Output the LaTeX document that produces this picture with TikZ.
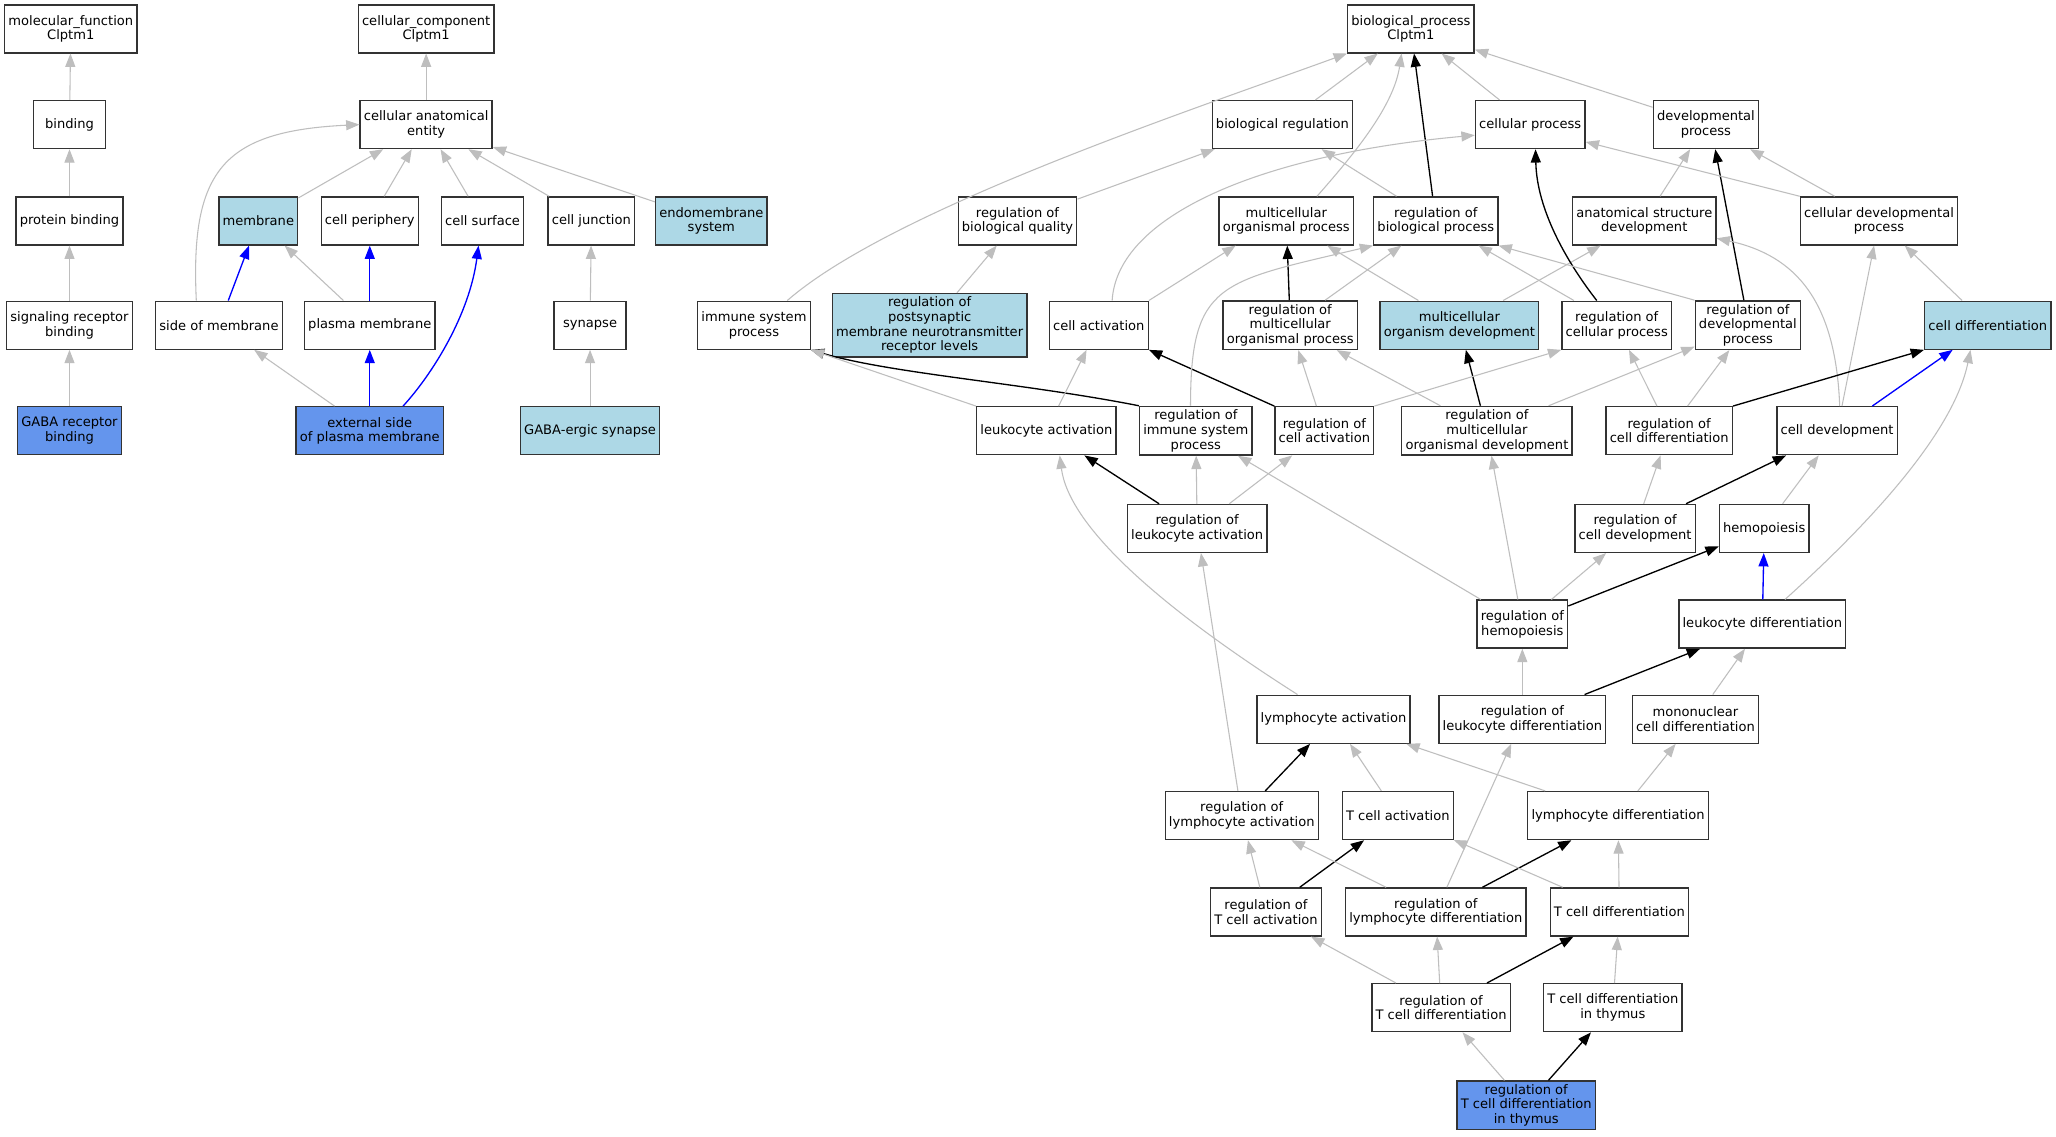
\documentclass[tikz,border=0pt]{standalone}
\usepackage{fontspec}
\setmainfont{DejaVu Sans}
\usetikzlibrary{arrows.meta}
\definecolor{lightblue}{HTML}{ADD8E6}
\definecolor{cornflower}{HTML}{6495ED}
\definecolor{edgegray}{HTML}{BEBEBE}

\begin{document}
\begin{tikzpicture}[x=0.9834pt, y=-0.9834pt]

\tikzstyle{every node} = [rectangle, draw=black!80, line width=1pt, fill=white, align=center, inner xsep=2.8pt, inner ysep=2.5pt, minimum width=54pt, minimum height=36pt, font=\fontsize{9.8}{11}\selectfont]
\tikzstyle{lb} = [fill=lightblue]
\tikzstyle{cb} = [fill=cornflower]
\tikzstyle{isa} = [-{Triangle[length=10pt,width=7.5pt]}, edgegray, line width=0.8pt]
\tikzstyle{regulates} = [-{Triangle[length=10pt,width=7.5pt]}, black, line width=1pt]
\tikzstyle{partof} = [-{Triangle[length=10pt,width=7.5pt]}, blue, line width=1pt]

\fill[white] (0,0) rectangle (1568,866.4);
\useasboundingbox (0,0) rectangle (1568,866.4);

% molecular function
\node (mf) at (54,22) {molecular\_function\\Clptm1};
\node (bind) at (53,95) {binding};
\node (pb) at (53,168.5) {protein binding};
\node (srb) at (53,248) {signaling receptor\\binding};
\node[cb] (grb) at (53,328.5) {GABA receptor\\binding};

% cellular component
\node (cc) at (325,22) {cellular\_component\\Clptm1};
\node (cae) at (325,95) {cellular anatomical\\entity};
\node[lb] (mem) at (197,168.5) {membrane};
\node (cper) at (282,168.5) {cell periphery};
\node (csurf) at (368,168.5) {cell surface};
\node (cjun) at (451,168.5) {cell junction};
\node[lb] (endo) at (542.5,168.5) {endomembrane\\system};
\node (som) at (167,248) {side of membrane};
\node (pm) at (282,248) {plasma membrane};
\node (syn) at (450,248) {synapse};
\node[cb] (esopm) at (282,328.5) {external side\\of plasma membrane};
\node[lb] (gabasyn) at (450,328.5) {GABA-ergic synapse};

% biological process
\node (bp) at (1076,22) {biological\_process\\Clptm1};
\node (br) at (978,95) {biological regulation};
\node (cp) at (1167,95) {cellular process};
\node (dp) at (1301,95) {developmental\\process};
\node (rbq) at (776,168.5) {regulation of\\biological quality};
\node (mop) at (981,168.5) {multicellular\\organismal process};
\node (rbp) at (1095,168.5) {regulation of\\biological process};
\node (asd) at (1254,168.5) {anatomical structure\\development};
\node (cdp) at (1433,168.5) {cellular developmental\\process};
\node (isp) at (575,248) {immune system\\process};
\node[lb] (rpost) at (709,248) {regulation of\\postsynaptic\\membrane neurotransmitter\\receptor levels};
\node (ca) at (838,248) {cell activation};
\node (rmop) at (984,248) {regulation of\\multicellular\\organismal process};
\node[lb] (mod) at (1113,248) {multicellular\\organism development};
\node (rcp) at (1233,248) {regulation of\\cellular process};
\node (rdp) at (1333,248) {regulation of\\developmental\\process};
\node[lb] (cd) at (1516,248) {cell differentiation};
\node (la) at (798,328.5) {leukocyte activation};
\node (rimsp) at (912,328.5) {regulation of\\immune system\\process};
\node (rca) at (1010,328.5) {regulation of\\cell activation};
\node (rmod) at (1134,328.5) {regulation of\\multicellular\\organismal development};
\node (rcd) at (1273,328.5) {regulation of\\cell differentiation};
\node (cdev) at (1401,328.5) {cell development};
\node (rla) at (913,403) {regulation of\\leukocyte activation};
\node (rcdev) at (1247,403) {regulation of\\cell development};
\node (hemo) at (1345.5,403) {hemopoiesis};
\node (rh) at (1161,476) {regulation of\\hemopoiesis};
\node (ld) at (1344,476) {leukocyte differentiation};
\node (lyma) at (1017,548.5) {lymphocyte activation};
\node (rld) at (1161,548.5) {regulation of\\leukocyte differentiation};
\node (mcd) at (1293,548.5) {mononuclear\\cell differentiation};
\node (rlyma) at (947,622) {regulation of\\lymphocyte activation};
\node (tca) at (1066,622) {T cell activation};
\node (lymd) at (1234,622) {lymphocyte differentiation};
\node (rtca) at (965.5,695.5) {regulation of\\T cell activation};
\node (rlymd) at (1095,695.5) {regulation of\\lymphocyte differentiation};
\node (tcd) at (1235,695.5) {T cell differentiation};
\node (rtcd) at (1099,768.5) {regulation of\\T cell differentiation};
\node (tcdit) at (1230,768.5) {T cell differentiation\\in thymus};
\node[cb] (rtcdit) at (1164,843) {regulation of\\T cell differentiation\\in thymus};

% molecular function edges
\draw[isa] (bind) -- (mf);
\draw[isa] (pb) -- (bind);
\draw[isa] (srb) -- (pb);
\draw[isa] (grb) -- (srb);

% cellular component edges
\draw[isa] (cae) -- (cc);
\draw[isa] (mem) -- (cae);
\draw[isa] (cper) -- (cae);
\draw[isa] (csurf) -- (cae);
\draw[isa] (cjun) -- (cae);
\draw[isa] (endo) -- (cae);
\draw[isa] ([xshift=-17pt]som.north) .. controls (145,130) and (170,100) .. (cae.west);
\draw[partof] (som) -- (mem);
\draw[isa] (pm) -- (mem);
\draw[partof] (pm) -- (cper);
\draw[isa] (esopm) -- (som);
\draw[partof] (esopm) -- (pm);
\draw[partof] ([xshift=25pt]esopm.north) .. controls (330,285) and (358,240) .. ([xshift=-3pt]csurf.south);
\draw[isa] (syn) -- (cjun);
\draw[isa] (gabasyn) -- (syn);

% biological process edges
\draw[isa] ([xshift=25pt]isp.north) .. controls (680,160) and (903,86) .. (bp.south west);
\draw[isa] (rpost) -- (rbq);
\draw[isa] (rbq) -- (br);
\draw[isa] (br) -- (bp);
\draw[isa] ([xshift=23pt]mop.north) .. controls (1035,115) and (1063,80) .. ([xshift=-7pt]bp.south);
\draw[regulates] (rbp) -- (bp);
\draw[isa] (cp) -- (bp);
\draw[isa] (dp) -- (bp);
\draw[isa] (rbp) -- (br);
\draw[isa] ([xshift=10pt]ca.north) .. controls (852,165) and (960,118) .. ([yshift=-8pt]cp.west);
\draw[isa] (ca.north east) -- ([xshift=-38pt]mop.south);
\draw[regulates] (rmop) -- (mop);
\draw[isa] (rmop) -- (rbp);
\draw[isa] (mod) -- (mop);
\draw[isa] (mod) -- (asd);
\draw[regulates] ([xshift=-15pt]rcp.north) .. controls (1195,200) and (1172,160) .. ([xshift=4pt]cp.south);
\draw[isa] (rcp) -- (rbp);
\draw[regulates] ([xshift=-3pt]rdp.north) -- ([xshift=7pt]dp.south);
\draw[isa] (rdp.north west) -- (rbp.south east);
\draw[isa] (asd) -- (dp);
\draw[isa] (cdp) -- (dp);
\draw[isa] (cdp.north west) -- ([yshift=-13pt]cp.east);
\draw[isa] (cd) -- (cdp);
\draw[isa] (cdev) -- (cdp);
\draw[isa] ([xshift=2pt]cdev.north) .. controls (1400,230) and (1370,195) .. ([yshift=-13pt]asd.east);
\draw[partof] (cdev) -- (cd);
\draw[regulates] (rcd.north east) -- (cd.south west);
\draw[isa] (rcd) -- (rcp);
\draw[isa] (rcd) -- (rdp);
\draw[isa] (rmod) -- (rdp);
\draw[regulates] (rmod) -- (mod);
\draw[isa] (rmod) -- (rmop);
\draw[isa] (rca) -- (rmop);
\draw[isa] (rca.north east) -- (rcp.south west);
\draw[regulates] (rca.north west) -- (ca.south east);
\draw[isa] ([xshift=-4pt]rimsp.north) .. controls (908,215) and (930,215) .. (rbp.south west);
\draw[regulates] (rimsp.north west) .. controls (780,292) and (680,285) .. (isp.south east);
\draw[isa] (la.north west) -- (isp.south east);
\draw[isa] (la) -- (ca);
\draw[regulates] (rla) -- (la);
\draw[isa] (rla) -- (rimsp);
\draw[isa] (rla) -- (rca);
\draw[isa] (rcdev) -- (rcd);
\draw[regulates] (rcdev) -- (cdev);
\draw[isa] (hemo) -- (cdev);
\draw[isa] (rh) -- (rimsp);
\draw[isa] (rh) -- (rmod);
\draw[isa] (rh) -- (rcdev);
\draw[regulates] (rh) -- (hemo);
\draw[partof] (ld) -- (hemo);
\draw[isa] ([xshift=17pt]ld.north) .. controls (1425,400) and (1490,330) .. ([xshift=-13pt]cd.south);
\draw[isa] ([xshift=-27pt]lyma.north) .. controls (880,460) and (815,400) .. ([xshift=10pt]la.south);
\draw[isa] (rld) -- (rh);
\draw[regulates] (rld) -- (ld);
\draw[isa] (mcd) -- (ld);
\draw[regulates] (rlyma) -- (lyma);
\draw[isa] (rlyma) -- (rla);
\draw[isa] (tca) -- (lyma);
\draw[isa] (lymd) -- (lyma);
\draw[isa] (lymd) -- (mcd);
\draw[isa] (rtca) -- (rlyma);
\draw[regulates] (rtca) -- (tca);
\draw[isa] (rlymd) -- (rlyma);
\draw[isa] (rlymd) -- (rld);
\draw[regulates] (rlymd) -- (lymd);
\draw[isa] (tcd) -- (tca);
\draw[isa] (tcd) -- (lymd);
\draw[isa] (rtcd) -- (rtca);
\draw[isa] (rtcd) -- (rlymd);
\draw[regulates] (rtcd) -- (tcd);
\draw[isa] (tcdit) -- (tcd);
\draw[isa] (rtcdit) -- (rtcd);
\draw[regulates] (rtcdit) -- (tcdit);
\end{tikzpicture}
\end{document}
